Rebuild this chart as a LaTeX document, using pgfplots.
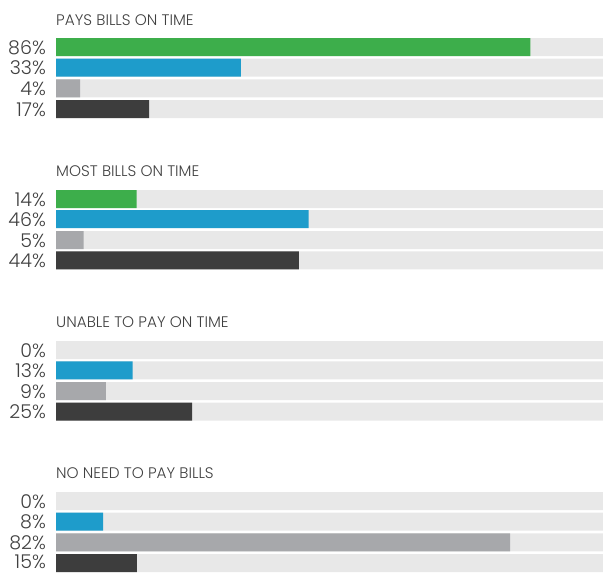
\documentclass[border=0pt]{standalone}
\usepackage{fontspec}
\setmainfont{Poppins}[UprightFont={* Light}]
\usepackage{pgfplots}
\pgfplotsset{compat=1.18}
\definecolor{cgreen}{HTML}{3DAE4B}
\definecolor{cblue}{HTML}{1E9CCB}
\definecolor{cgray}{HTML}{A7A8AB}
\definecolor{cdark}{HTML}{3D3D3D}
\definecolor{cbg}{HTML}{E8E8E8}
\definecolor{ctext}{HTML}{404040}
\begin{document}
\begin{tikzpicture}
\begin{axis}[
  width=603pt, height=574pt, scale only axis,
  xmin=-10.24, xmax=100, ymin=0, ymax=574, y dir=reverse,
  hide axis, clip=false,
  xbar, bar width=18pt, bar shift=0pt,
]
\path (rel axis cs:0,0) rectangle (rel axis cs:1,1);
% background bars
\addplot[fill=cbg, draw=none] coordinates {
(100,47) (100,67.7) (100,88.3) (100,109)
(100,199) (100,219) (100,240) (100,260.3)
(100,350) (100,370.3) (100,391) (100,411.7)
(100,501) (100,521.7) (100,542.3) (100,563)};
% green (0% in the last two groups: no visible bar)
\addplot[fill=cgreen, draw=none] coordinates {(86.7,47) (14.75,199)};
% blue
\addplot[fill=cblue, draw=none] coordinates {(33.8,67.7) (46.2,219) (14.0,370.3) (8.6,521.7)};
% gray
\addplot[fill=cgray, draw=none] coordinates {(4.4,88.3) (5.06,240) (9.1,391) (83.0,542.3)};
% dark
\addplot[fill=cdark, draw=none] coordinates {(17.0,109) (44.4,260.3) (24.9,411.7) (14.8,563)};
% titles
\begin{scope}[every node/.style={anchor=base west, inner sep=0pt, text=ctext, font=\fontsize{15.3}{15.3}\selectfont}]
\node at (axis cs:0,25) {PAYS BILLS ON TIME};
\node at (axis cs:0,176.3) {MOST BILLS ON TIME};
\node at (axis cs:0,327.5) {UNABLE TO PAY ON TIME};
\node at (axis cs:0,478.5) {NO NEED TO PAY BILLS};
\end{scope}
% percentage labels
\begin{scope}[every node/.style={anchor=base east, inner sep=0pt, text=ctext, font=\fontsize{19}{19}\selectfont}]
\node at (axis cs:-1.83,54) {86\%};
\node at (axis cs:-1.83,74.7) {33\%};
\node at (axis cs:-1.83,95.3) {4\%};
\node at (axis cs:-1.83,116) {17\%};
\node at (axis cs:-1.83,206) {14\%};
\node at (axis cs:-1.83,226) {46\%};
\node at (axis cs:-1.83,247) {5\%};
\node at (axis cs:-1.83,267.3) {44\%};
\node at (axis cs:-1.83,357) {0\%};
\node at (axis cs:-1.83,377.3) {13\%};
\node at (axis cs:-1.83,398) {9\%};
\node at (axis cs:-1.83,418.7) {25\%};
\node at (axis cs:-1.83,508) {0\%};
\node at (axis cs:-1.83,528.7) {8\%};
\node at (axis cs:-1.83,549.3) {82\%};
\node at (axis cs:-1.83,568.5) {15\%};
\end{scope}
\end{axis}
\end{tikzpicture}
\end{document}
